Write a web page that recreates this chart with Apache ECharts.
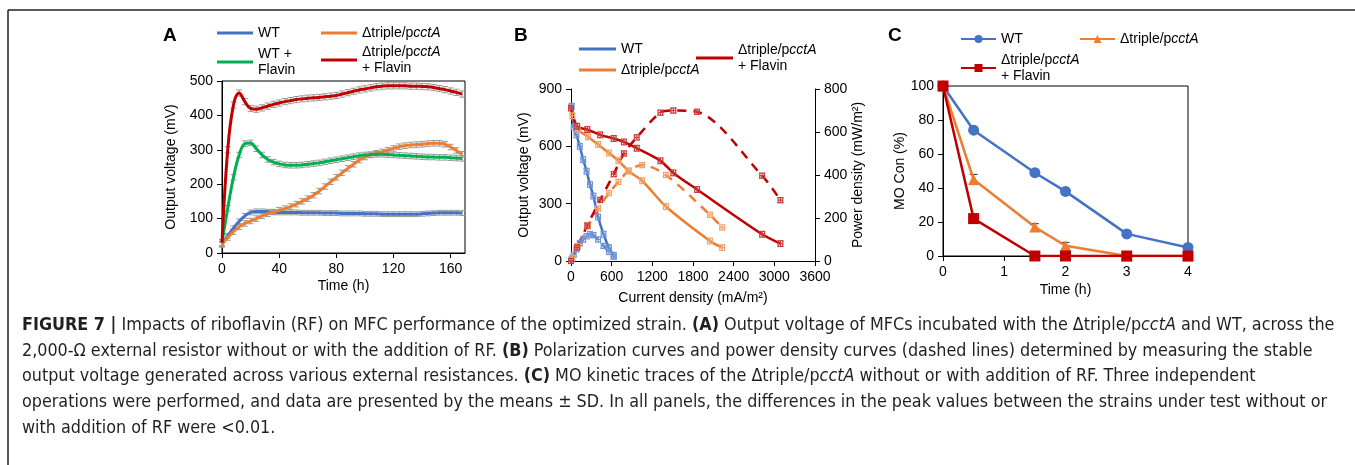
<!DOCTYPE html>
<html>
<head>
<meta charset="utf-8">
<script src="https://cdn.jsdelivr.net/npm/echarts@6/dist/echarts.min.js"></script>
<style>
html, body { margin: 0; padding: 0; background: #fff; }
#chart { width: 1355px; height: 465px; }
</style>
</head>
<body>
<div id="chart"></div>
<script>
// ---- panel A : output voltage vs time
var timeA = [0, 4, 8, 12, 16, 20, 24, 28, 32, 36, 40, 44, 48, 52, 56, 60, 64, 68, 72, 76, 80, 84, 88, 92, 96, 100,
    104, 108, 112, 116, 120, 124, 128, 132, 136, 140, 144, 148, 152, 156, 160, 164, 168];
var wtA = [25, 50, 72, 92, 108, 118, 121, 121, 120, 119, 118, 118, 118, 118, 117, 117, 117, 117, 116, 116, 116, 115,
    115, 115, 115, 114, 114, 114, 113, 113, 113, 113, 113, 113, 113, 114, 115, 116, 117, 117, 117, 117, 116];
var tripleA = [25, 45, 62, 76, 86, 93, 100, 108, 114, 119, 124, 129, 135, 142, 150, 158, 168, 180, 193, 207, 220, 233,
    246, 258, 270, 279, 285, 290, 294, 299, 304, 309, 312, 314, 315, 316, 318, 319, 319, 316, 308, 298, 287];
var wtFlavinA = [30, 130, 220, 285, 318, 320, 303, 285, 272, 264, 259, 256, 255, 255, 256, 258, 260, 262, 265, 268,
    271, 274, 277, 280, 283, 285, 286, 287, 287, 286, 285, 284, 283, 282, 281, 280, 279, 279, 278, 278, 277, 276, 275];
var tripleFlavinA = [30, 300, 430, 465, 440, 420, 418, 422, 427, 432, 436, 440, 443, 446, 448, 450, 451, 452, 454, 456,
    458, 462, 466, 470, 474, 477, 480, 483, 485, 486, 486, 486, 486, 485, 485, 484, 483, 481, 478, 475, 471, 467, 462];
var sdA = [7, 8, 8, 9]; // WT, triple, WT+Flavin, triple+Flavin

// ---- panel B : polarization (V) and power density (P) vs current density
var curWT = [10, 40, 80, 130, 180, 230, 280, 330, 400, 480, 560, 630];
var voltWT = [810, 700, 660, 600, 530, 470, 400, 340, 230, 140, 70, 30];
var powWT = [8, 30, 55, 82, 100, 115, 125, 120, 100, 70, 42, 20];
var curTriple = [20, 100, 250, 400, 560, 700, 850, 1050, 1400, 2050, 2230];
var voltTriple = [760, 690, 650, 610, 565, 525, 470, 420, 285, 105, 70];
var powTriple = [15, 69, 162, 244, 316, 368, 420, 446, 400, 215, 156];
var curFlavin = [0, 90, 240, 430, 630, 780, 970, 1320, 1510, 1860, 2820, 3090];
var voltFlavin = [800, 705, 688, 660, 641, 623, 590, 524, 461, 374, 140, 91];
var powFlavin = [0, 63, 165, 284, 404, 500, 575, 690, 700, 694, 397, 283];
var errB = [35, 15, 12]; // current, voltage, power

// ---- panel C : MO concentration vs time
var timeC = [0, 0.5, 1.5, 2, 3, 4];
var wtC = [100, 74, 49, 38, 13, 5];
var tripleC = [100, 45, 17, 6, 0, 0];
var tripleFlavinC = [100, 22, 0, 0, 0, 0];
var sdWtC = [0, 1.5, 1.5, 1.5, 1, 1];
var sdTripleC = [0, 3, 2, 2, 0, 0];
var sdFlavinC = [0, 1, 0, 0, 0, 0];

var BLUE = '#4472C4', ORANGE = '#ED7D31', GREEN = '#00B050', RED = '#C00000';
var FONT = 'Liberation Sans, Arial, sans-serif';
var CAPFONT = 'DejaVu Sans Condensed, sans-serif';
var CAPSIZE = 17.8;

var chart = echarts.init(document.getElementById('chart'));

function zip(xs, ys, e) {
    return xs.map(function (x, i) {
	return [x, ys[i], Array.isArray(e) ? e[i] : e];
    });
}

// vertical error bars with caps
function errY(color, cap) {
    return function (params, api) {
	var x = api.value(0), y = api.value(1), e = api.value(2);
	if (!e) return null;
	var t = api.coord([x, y + e]), b = api.coord([x, y - e]);
	var s = { stroke: color, lineWidth: 1 };
	return { type: 'group', children: [
	    { type: 'line', shape: { x1: t[0], y1: t[1], x2: b[0], y2: b[1] }, style: s },
	    { type: 'line', shape: { x1: t[0] - cap, y1: t[1], x2: t[0] + cap, y2: t[1] }, style: s },
	    { type: 'line', shape: { x1: b[0] - cap, y1: b[1], x2: b[0] + cap, y2: b[1] }, style: s }
	] };
    };
}

// x and y error bars (panel B)
function errXY(color, ex, ey) {
    return function (params, api) {
	var x = api.value(0), y = api.value(1);
	var t = api.coord([x, y + ey]), b = api.coord([x, y - ey]);
	var l = api.coord([x - ex, y]), r = api.coord([x + ex, y]);
	var s = { stroke: color, lineWidth: 1.2 };
	return { type: 'group', children: [
	    { type: 'line', shape: { x1: t[0], y1: t[1], x2: b[0], y2: b[1] }, style: s },
	    { type: 'line', shape: { x1: t[0] - 3, y1: t[1], x2: t[0] + 3, y2: t[1] }, style: s },
	    { type: 'line', shape: { x1: b[0] - 3, y1: b[1], x2: b[0] + 3, y2: b[1] }, style: s },
	    { type: 'line', shape: { x1: l[0], y1: l[1], x2: r[0], y2: r[1] }, style: s },
	    { type: 'line', shape: { x1: l[0], y1: l[1] - 3, x2: l[0], y2: l[1] + 3 }, style: s },
	    { type: 'line', shape: { x1: r[0], y1: r[1] - 3, x2: r[0], y2: r[1] + 3 }, style: s }
	] };
    };
}

var legendNames = {
    aWT: 'WT',
    aTriple: '{n|Δtriple/p}{i|cctA}',
    aWTF: 'WT +\nFlavin',
    aTripleF: '{n|Δtriple/p}{i|cctA}\n{n|+ Flavin}',
    bWT: 'WT',
    bTriple: '{n|Δtriple/p}{i|cctA}',
    bTripleF: '{n|Δtriple/p}{i|cctA}\n{n|+ Flavin}',
    cWT: 'WT',
    cTriple: '{n|Δtriple/p}{i|cctA}',
    cTripleF: '{n|Δtriple/p}{i|cctA}\n{n|+ Flavin}'
};

// one legend component per entry so each sits where the figure puts it
function legend(name, left, top, w, lineOnly) {
    return {
	data: lineOnly ? [{ name: name, icon: 'rect' }] : [name],
	left: left, top: top, itemWidth: w, itemHeight: lineOnly ? 3 : 10,
	itemGap: 0, padding: 0, selectedMode: false,
	formatter: function (n) { return legendNames[n]; },
	textStyle: {
	    fontFamily: FONT, fontSize: 14, color: '#000', lineHeight: 16,
	    rich: {
		n: { fontFamily: FONT, fontSize: 14, color: '#000', lineHeight: 16 },
		i: { fontFamily: FONT, fontSize: 14, color: '#000', fontStyle: 'italic', lineHeight: 16 }
	    }
	}
    };
}

function axisCommon(extra) {
    var base = {
	axisLine: { show: true, onZero: false, lineStyle: { color: '#000', width: 1 } },
	axisTick: { show: true, inside: false, length: 5, lineStyle: { color: '#000' } },
	axisLabel: { color: '#000', fontFamily: FONT, fontSize: 14, margin: 9,
		     formatter: function (v) { return String(v); } },
	splitLine: { show: false },
	nameLocation: 'middle',
	nameTextStyle: { color: '#000', fontFamily: FONT, fontSize: 14 }
    };
    for (var k in extra) base[k] = extra[k];
    return base;
}

var rich = { b: { fontFamily: CAPFONT, fontSize: CAPSIZE, fontWeight: 'bold', fill: '#231f20' },
	     i: { fontFamily: CAPFONT, fontSize: CAPSIZE, fontStyle: 'italic', fill: '#231f20' } };
var captionLines = [
    '{b|FIGURE 7 |} Impacts of riboflavin (RF) on MFC performance of the optimized strain. {b|(A)} Output voltage of MFCs incubated with the Δtriple/p{i|cctA} and WT, across the',
    '2,000-Ω external resistor without or with the addition of RF. {b|(B)} Polarization curves and power density curves (dashed lines) determined by measuring the stable',
    'output voltage generated across various external resistances. {b|(C)} MO kinetic traces of the Δtriple/p{i|cctA} without or with addition of RF. Three independent',
    'operations were performed, and data are presented by the means ± SD. In all panels, the differences in the peak values between the strains under test without or',
    'with addition of RF were <0.01.'
];
var captionY = [325, 351, 376, 402, 428];

var graphics = [
    { type: 'line', shape: { x1: 8, y1: 10, x2: 1355, y2: 10 }, style: { stroke: '#222', lineWidth: 1.5 } },
    { type: 'line', shape: { x1: 8, y1: 10, x2: 8, y2: 465 }, style: { stroke: '#222', lineWidth: 1.5 } },
    { type: 'text', left: 163, top: 26, style: { text: 'A', fontFamily: FONT, fontSize: 19, fontWeight: 'bold', fill: '#000' } },
    { type: 'text', left: 514, top: 26, style: { text: 'B', fontFamily: FONT, fontSize: 19, fontWeight: 'bold', fill: '#000' } },
    { type: 'text', left: 888, top: 26, style: { text: 'C', fontFamily: FONT, fontSize: 19, fontWeight: 'bold', fill: '#000' } }
];
captionLines.forEach(function (t, i) {
    graphics.push({ type: 'text', x: 22, y: captionY[i],
		    style: { text: t, fontFamily: CAPFONT, fontSize: CAPSIZE, fill: '#231f20', verticalAlign: 'middle', rich: rich } });
});

option = {
    animation: false,
    backgroundColor: '#fff',
    graphic: graphics,
    legend: [
	legend('aWT', 217, 25, 36, true),
	legend('aTriple', 321, 25, 36, true),
	legend('aWTF', 217, 46, 36, true),
	legend('aTripleF', 321, 44, 36, true),
	legend('bWT', 579, 41, 37, true),
	legend('bTriple', 579, 62, 37, true),
	legend('bTripleF', 696, 42, 37, true),
	legend('cWT', 960, 31, 35),
	legend('cTriple', 1079, 31, 35),
	legend('cTripleF', 960, 52, 35)
    ],
    grid: [
	{ left: 222, top: 81, width: 243, height: 172, show: true, borderColor: '#000', borderWidth: 1, outerBoundsMode: 'none' },
	{ left: 571, top: 89, width: 244, height: 172, outerBoundsMode: 'none' },
	{ left: 943, top: 86, width: 245, height: 170, show: true, borderColor: '#000', borderWidth: 1, outerBoundsMode: 'none' }
    ],
    xAxis: [
	axisCommon({ gridIndex: 0, type: 'value', min: 0, max: 170, interval: 40, name: 'Time (h)', nameGap: 26,
		     axisLabel: { color: '#000', fontFamily: FONT, fontSize: 14, margin: 9, showMaxLabel: false } }),
	axisCommon({ gridIndex: 1, type: 'value', min: 0, max: 3600, interval: 600, name: 'Current density (mA/m²)', nameGap: 30 }),
	axisCommon({ gridIndex: 2, type: 'value', min: 0, max: 4, interval: 1, name: 'Time (h)', nameGap: 27 })
    ],
    yAxis: [
	axisCommon({ gridIndex: 0, type: 'value', min: 0, max: 500, interval: 100, name: 'Output voltage (mV)', nameGap: 44 }),
	axisCommon({ gridIndex: 1, type: 'value', min: 0, max: 900, interval: 300, name: 'Output voltage (mV)', nameGap: 40 }),
	axisCommon({ gridIndex: 1, type: 'value', position: 'right', min: 0, max: 800, interval: 200, name: 'Power density (mW/m²)', nameGap: 36 }),
	axisCommon({ gridIndex: 2, type: 'value', min: 0, max: 100, interval: 20, name: 'MO Con (%)', nameGap: 36 })
    ],
    series: [
	// panel A error bars
	{ type: 'custom', xAxisIndex: 0, yAxisIndex: 0, renderItem: errY('#9a9a9a', 3), data: zip(timeA, wtA, sdA[0]), z: 1 },
	{ type: 'custom', xAxisIndex: 0, yAxisIndex: 0, renderItem: errY('#9a9a9a', 3), data: zip(timeA, tripleA, sdA[1]), z: 1 },
	{ type: 'custom', xAxisIndex: 0, yAxisIndex: 0, renderItem: errY('#9a9a9a', 3), data: zip(timeA, wtFlavinA, sdA[2]), z: 1 },
	{ type: 'custom', xAxisIndex: 0, yAxisIndex: 0, renderItem: errY('#9a9a9a', 3), data: zip(timeA, tripleFlavinA, sdA[3]), z: 1 },
	// panel A lines
	{ name: 'aWT', type: 'line', xAxisIndex: 0, yAxisIndex: 0, data: zip(timeA, wtA, 0), smooth: 0.4, symbol: 'none',
	  lineStyle: { color: BLUE, width: 3 }, itemStyle: { color: BLUE }, z: 3 },
	{ name: 'aTriple', type: 'line', xAxisIndex: 0, yAxisIndex: 0, data: zip(timeA, tripleA, 0), smooth: 0.4, symbol: 'none',
	  lineStyle: { color: ORANGE, width: 3 }, itemStyle: { color: ORANGE }, z: 3 },
	{ name: 'aWTF', type: 'line', xAxisIndex: 0, yAxisIndex: 0, data: zip(timeA, wtFlavinA, 0), smooth: 0.4, symbol: 'none',
	  lineStyle: { color: GREEN, width: 3 }, itemStyle: { color: GREEN }, z: 3 },
	{ name: 'aTripleF', type: 'line', xAxisIndex: 0, yAxisIndex: 0, data: zip(timeA, tripleFlavinA, 0), smooth: 0.4, symbol: 'none',
	  lineStyle: { color: RED, width: 3 }, itemStyle: { color: RED }, z: 3 },

	// panel B polarization curves
	{ name: 'bWT', type: 'line', xAxisIndex: 1, yAxisIndex: 1, data: zip(curWT, voltWT, 0), smooth: 0.3, symbol: 'none',
	  lineStyle: { color: BLUE, width: 2.5 }, itemStyle: { color: BLUE }, z: 3 },
	{ name: 'bTriple', type: 'line', xAxisIndex: 1, yAxisIndex: 1, data: zip(curTriple, voltTriple, 0), smooth: 0.3, symbol: 'none',
	  lineStyle: { color: ORANGE, width: 2.5 }, itemStyle: { color: ORANGE }, z: 3 },
	{ name: 'bTripleF', type: 'line', xAxisIndex: 1, yAxisIndex: 1, data: zip(curFlavin, voltFlavin, 0), smooth: 0.3, symbol: 'none',
	  lineStyle: { color: RED, width: 2.5 }, itemStyle: { color: RED }, z: 3 },
	// panel B power density curves (dashed)
	{ name: 'bWTP', type: 'line', xAxisIndex: 1, yAxisIndex: 2, data: zip(curWT, powWT, 0), smooth: 0.3, symbol: 'none',
	  lineStyle: { color: BLUE, width: 2.5, type: [9, 7] }, itemStyle: { color: BLUE }, z: 3 },
	{ name: 'bTripleP', type: 'line', xAxisIndex: 1, yAxisIndex: 2, data: zip(curTriple, powTriple, 0), smooth: 0.3, symbol: 'none',
	  lineStyle: { color: ORANGE, width: 2.5, type: [9, 7] }, itemStyle: { color: ORANGE }, z: 3 },
	{ name: 'bTripleFP', type: 'line', xAxisIndex: 1, yAxisIndex: 2, data: zip(curFlavin, powFlavin, 0), smooth: 0.3, symbol: 'none',
	  lineStyle: { color: RED, width: 2.5, type: [9, 7] }, itemStyle: { color: RED }, z: 3 },
	// panel B error crosses
	{ type: 'custom', xAxisIndex: 1, yAxisIndex: 1, renderItem: errXY('#6f95d8', errB[0], errB[1]), data: zip(curWT, voltWT, 0), z: 4 },
	{ type: 'custom', xAxisIndex: 1, yAxisIndex: 1, renderItem: errXY('#f3a26b', errB[0], errB[1]), data: zip(curTriple, voltTriple, 0), z: 4 },
	{ type: 'custom', xAxisIndex: 1, yAxisIndex: 1, renderItem: errXY('#cc3a3a', errB[0], errB[1]), data: zip(curFlavin, voltFlavin, 0), z: 4 },
	{ type: 'custom', xAxisIndex: 1, yAxisIndex: 2, renderItem: errXY('#6f95d8', errB[0], errB[2]), data: zip(curWT, powWT, 0), z: 4 },
	{ type: 'custom', xAxisIndex: 1, yAxisIndex: 2, renderItem: errXY('#f3a26b', errB[0], errB[2]), data: zip(curTriple, powTriple, 0), z: 4 },
	{ type: 'custom', xAxisIndex: 1, yAxisIndex: 2, renderItem: errXY('#cc3a3a', errB[0], errB[2]), data: zip(curFlavin, powFlavin, 0), z: 4 },

	// panel C
	{ type: 'custom', xAxisIndex: 2, yAxisIndex: 3, renderItem: errY('#333', 4), data: zip(timeC, wtC, sdWtC), z: 2 },
	{ type: 'custom', xAxisIndex: 2, yAxisIndex: 3, renderItem: errY('#333', 4), data: zip(timeC, tripleC, sdTripleC), z: 2 },
	{ type: 'custom', xAxisIndex: 2, yAxisIndex: 3, renderItem: errY('#333', 4), data: zip(timeC, tripleFlavinC, sdFlavinC), z: 2 },
	{ name: 'cWT', type: 'line', xAxisIndex: 2, yAxisIndex: 3, data: zip(timeC, wtC, 0), symbol: 'circle', symbolSize: 11,
	  lineStyle: { color: BLUE, width: 2.5 }, itemStyle: { color: BLUE }, z: 3 },
	{ name: 'cTriple', type: 'line', xAxisIndex: 2, yAxisIndex: 3, data: zip(timeC, tripleC, 0), symbol: 'triangle', symbolSize: 11,
	  lineStyle: { color: ORANGE, width: 2.5 }, itemStyle: { color: ORANGE }, z: 4 },
	{ name: 'cTripleF', type: 'line', xAxisIndex: 2, yAxisIndex: 3, data: zip(timeC, tripleFlavinC, 0), symbol: 'rect', symbolSize: 11,
	  lineStyle: { color: RED, width: 2.5 }, itemStyle: { color: RED }, z: 5 }
    ]
};

chart.setOption(option);
</script>
</body>
</html>
